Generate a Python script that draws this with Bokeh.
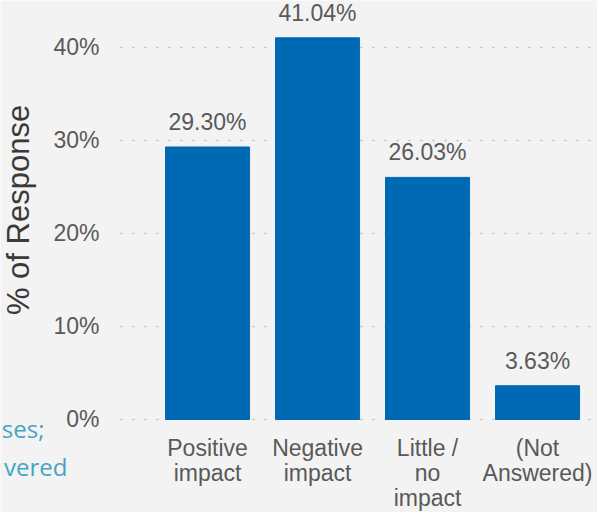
from bokeh.plotting import figure
from bokeh.models import Range1d, FixedTicker, PrintfTickFormatter, Label, ColumnDataSource
from bokeh.core.properties import value
from bokeh.embed import file_html
from bokeh.resources import INLINE

categories = ["Positive\nimpact", "Negative\nimpact", "Little /\nno\nimpact", "(Not\nAnswered)"]
percents = [29.30, 41.04, 26.03, 3.63]
y_ticks = [0, 10, 20, 30, 40]
side_texts = ["ses;", "vered"]

BG = "#f3f3f3"
BAR = "#0069b4"
FONT = "Liberation Sans"
AXIS_X = -0.791  # data x where the value axis and gridlines start

xs = list(range(len(categories)))
src = ColumnDataSource(dict(
    x=xs,
    top=percents,
    label=[f"{v:.2f}%" for v in percents],
    cat=categories,
))

p = figure(width=597, height=512, output_backend="svg", toolbar_location=None,
           x_range=Range1d(-1.882, 3.545), y_range=Range1d(-10.0, 45.05),
           min_border_left=0, min_border_right=0, min_border_top=0,
           min_border_bottom=0)
p.background_fill_color = BG
p.border_fill_color = BG
p.outline_line_color = None

# dotted gridlines starting at the axis
p.xgrid.grid_line_color = None
p.ygrid.grid_line_color = None
p.ray(x=AXIS_X, y=y_ticks, length=0, angle=0, line_color="#bdbdbd",
      line_dash="2 10", line_width=1.5)

p.vbar(x="x", top="top", bottom=0, width=0.764, source=src,
       fill_color=BAR, line_color=BAR)
p.text(x="x", y="top", text="label", source=src, y_offset=-25,
       text_align="center", text_baseline="alphabetic",
       text_font=value(FONT), text_font_size="23px", text_color="#595959")

# category labels under the bars
p.text(x="x", y=0, text="cat", source=src, y_offset=16,
       text_align="center", text_baseline="top", text_line_height=0.953,
       text_font=value(FONT), text_font_size="23px", text_color="#595959")

# y axis
ya = p.yaxis[0]
ya.fixed_location = AXIS_X
ya.ticker = FixedTicker(ticks=y_ticks)
ya.formatter = PrintfTickFormatter(format="%d%%")
ya.axis_line_color = None
ya.major_tick_line_color = None
ya.minor_tick_line_color = None
ya.major_tick_out = 0
ya.major_tick_in = 0
ya.major_label_standoff = 21
ya.major_label_text_font = FONT
ya.major_label_text_font_size = "23px"
ya.major_label_text_color = "#595959"
ya.axis_label = "% of Response"
ya.axis_label_text_font = FONT
ya.axis_label_text_font_size = "31px"
ya.axis_label_text_font_style = "normal"
ya.axis_label_text_color = "#3a3a3a"
ya.axis_label_standoff = 14
ya.bounds = (0, 46.25)

p.xaxis.visible = False

# side text fragments at the left edge
for t, xr, yb in zip(side_texts, [44, 67], [84, 46]):
    p.add_layout(Label(x=xr, y=yb, x_units="screen", y_units="screen", text=t,
                       text_align="right", text_baseline="alphabetic",
                       text_font="Open Sans", text_font_size="24px",
                       text_color="#45a5c2"))

open("out.html", "w").write(file_html(p, INLINE))
